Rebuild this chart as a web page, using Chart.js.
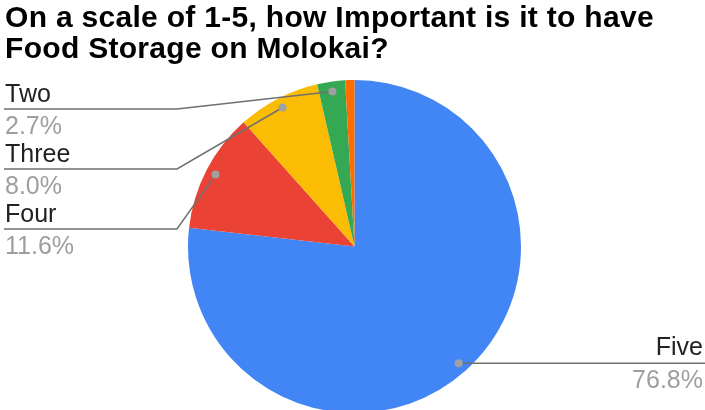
<!DOCTYPE html>
<html>
<head>
<meta charset="utf-8">
<script src="https://cdn.jsdelivr.net/npm/chart.js@4/dist/chart.umd.min.js"></script>
<style>
  html, body { margin: 0; padding: 0; background: #fff; overflow: hidden; }
  #wrap { position: relative; width: 705px; height: 420px; }
  #title {
    position: absolute; left: 5px; top: 1px;
    font-family: "Liberation Sans", Arial, sans-serif; font-weight: bold;
    font-size: 30px; line-height: 31px; color: #000; white-space: nowrap;
    letter-spacing: 0.3px;
  }
  canvas { position: absolute; left: 0; top: 0; }
</style>
</head>
<body>
<div id="wrap">
  <canvas id="c" width="705" height="420"></canvas>
  <div id="title">On a scale of 1-5, how Important is it to have<br>Food Storage on Molokai?</div>
</div>
<script>
const categories = ['Five', 'Four', 'Three', 'Two', 'One'];
const values = [76.8, 11.6, 8.0, 2.7, 0.9];
const colors = ['#4285F4', '#EA4335', '#FBBC04', '#34A853', '#FF6D01'];
const shownLabels = ['Five', 'Four', 'Three', 'Two'];

// label placement (layout only)
const slots = {
  'Two':   { side: 'left', lineY: 109 },
  'Three': { side: 'left', lineY: 169 },
  'Four':  { side: 'left', lineY: 229 },
  'Five':  { side: 'right' }
};

const labelPlugin = {
  id: 'leaderLabels',
  afterDatasetsDraw(chart) {
    const ctx = chart.ctx;
    const meta = chart.getDatasetMeta(0);
    const total = values.reduce((a, b) => a + b, 0);
    ctx.save();
    meta.data.forEach((arc, i) => {
      const name = categories[i];
      if (!shownLabels.includes(name)) return;
      const slot = slots[name];
      const p = arc.getProps(['x', 'y', 'startAngle', 'endAngle', 'outerRadius'], true);
      const mid = (p.startAngle + p.endAngle) / 2;
      const r = p.outerRadius * 0.94;
      const dx = p.x + Math.cos(mid) * r;
      const dy = p.y + Math.sin(mid) * r;
      const pct = (values[i] / total * 100).toFixed(1) + '%';
      ctx.strokeStyle = '#707070';
      ctx.lineWidth = 1.5;
      ctx.font = '25px "Liberation Sans", Arial, sans-serif';
      ctx.textBaseline = 'alphabetic';
      if (slot.side === 'left') {
        const y = slot.lineY;
        ctx.beginPath();
        ctx.moveTo(4, y);
        ctx.lineTo(177, y);
        ctx.lineTo(dx, dy);
        ctx.stroke();
        ctx.textAlign = 'left';
        ctx.fillStyle = '#222';
        ctx.fillText(name, 5, y - 7);
        ctx.fillStyle = '#9e9e9e';
        ctx.fillText(pct, 5, y + 25);
      } else {
        const y = dy;
        ctx.beginPath();
        ctx.moveTo(dx, y);
        ctx.lineTo(705, y);
        ctx.stroke();
        ctx.textAlign = 'right';
        ctx.fillStyle = '#222';
        ctx.fillText(name, 703, y - 8);
        ctx.fillStyle = '#9e9e9e';
        ctx.fillText(pct, 703, y + 25);
      }
      ctx.fillStyle = '#a0a0a0';
      ctx.beginPath();
      ctx.arc(dx, dy, 4, 0, Math.PI * 2);
      ctx.fill();
    });
    ctx.restore();
  }
};

new Chart(document.getElementById('c'), {
  type: 'pie',
  data: {
    labels: categories,
    datasets: [{
      data: values,
      backgroundColor: colors,
      borderWidth: 0
    }]
  },
  options: {
    responsive: false,
    animation: false,
    layout: { padding: { top: 80, bottom: 7, left: 188, right: 184 } },
    plugins: {
      legend: { display: false },
      tooltip: { enabled: false },
      title: { display: false }
    }
  },
  plugins: [labelPlugin]
});
</script>
</body>
</html>
